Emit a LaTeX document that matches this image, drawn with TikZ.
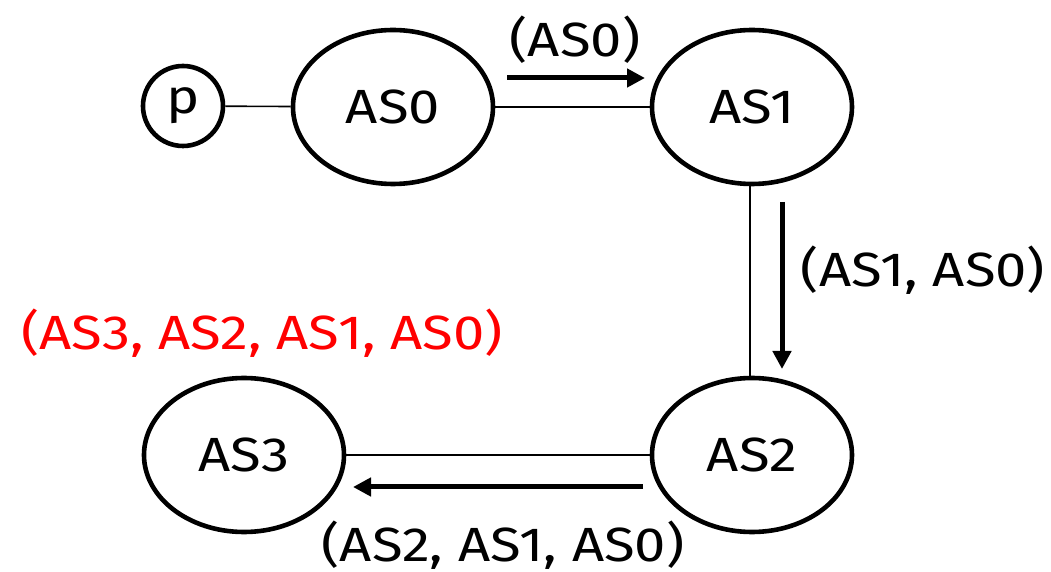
\documentclass[tikz,border=0pt]{standalone}
\usepackage{fontspec}
\setmainfont{Fira Sans}[FakeStretch=1.17]
\usetikzlibrary{shapes.geometric,arrows.meta}
\begin{document}
\begin{tikzpicture}[x=0.5pt,y=-0.5pt,
  asnode/.style={ellipse,draw,line width=2.3pt,minimum width=100pt,minimum height=77pt,inner sep=0pt,font=\fontsize{24}{28}\selectfont},
  pnode/.style={circle,draw,line width=2.3pt,minimum size=40pt,inner sep=0pt,font=\fontsize{24}{28}\selectfont},
  link/.style={line width=0.8pt},
  flow/.style={line width=2.5pt,-{Triangle[length=9pt,width=9pt]}},
  lbl/.style={font=\fontsize{24}{28}\selectfont,inner sep=0pt}]
\useasboundingbox (0,0) rectangle (1051,572);
\node[pnode] (p) at (183,106) {p};
\node[asnode] (as0) at (393,107) {AS0};
\node[asnode] (as1) at (752,107) {AS1};
\node[asnode] (as2) at (752,455) {AS2};
\node[asnode] (as3) at (244,455) {AS3};
\draw[link] (p) -- (as0);
\draw[link] (as0.east) -- (as1.west);
\draw[link] (as1.south -| 750,0) -- (as2.north -| 750,0);
\draw[link] (as3.east) -- (as2.west);
\coordinate (a1s) at (507,78); \coordinate (a1e) at (645,78);
\coordinate (a2s) at (782,202); \coordinate (a2e) at (782,369);
\coordinate (a3s) at (643,487); \coordinate (a3e) at (353,487);
\draw[flow] (a1s) -- (a1e);
\draw[flow] (a2s) -- (a2e);
\draw[flow] (a3s) -- (a3e);
\node[lbl] (l1) at (575,40) {(AS0)};
\node[lbl] (l2) at (923,270) {(AS1, AS0)};
\node[lbl,text=red] (l3) at (262,333) {(AS3, AS2, AS1, AS0)};
\node[lbl] (l4) at (503,545) {(AS2, AS1, AS0)};
\end{tikzpicture}
\end{document}
